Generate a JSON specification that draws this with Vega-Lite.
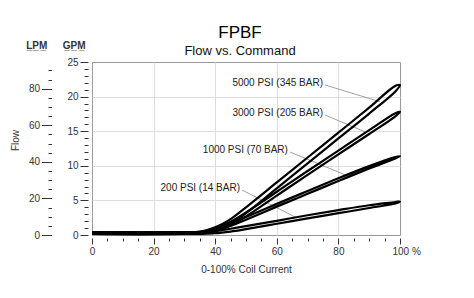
{
  "$schema": "https://vega.github.io/schema/vega-lite/v6.json",
  "width": 308,
  "height": 173,
  "autosize": {"type": "none"},
  "padding": {"left": 92, "top": 62, "right": 74, "bottom": 63},
  "title": {
    "text": "FPBF",
    "subtitle": "Flow vs. Command",
    "font": "Liberation Sans",
    "fontSize": 17,
    "fontWeight": "normal",
    "color": "#000",
    "subtitleFont": "Liberation Sans",
    "subtitleFontSize": 13,
    "subtitleColor": "#111",
    "subtitlePadding": 3,
    "anchor": "middle",
    "frame": "group",
    "dx": -6,
    "offset": -18
  },
  "config": {
    "view": {"stroke": "#999", "strokeWidth": 1},
    "font": "Liberation Sans",
    "axis": {
      "labelFont": "Liberation Sans",
      "titleFont": "Liberation Sans",
      "labelFontSize": 10,
      "titleFontSize": 10,
      "labelColor": "#333",
      "titleColor": "#333",
      "tickColor": "#333",
      "domain": false,
      "gridColor": "#ddd",
      "titleFontWeight": "normal",
      "labelOverlap": false,
      "labelFlush": false
    }
  },
  "datasets": {
    "curves": [
      {"c": "5000", "o": 1, "x": 0, "y": 0.15},
      {"c": "5000", "o": 2, "x": 30, "y": 0.15},
      {"c": "5000", "o": 3, "x": 35, "y": 0.2},
      {"c": "5000", "o": 4, "x": 40, "y": 0.6},
      {"c": "5000", "o": 5, "x": 45, "y": 1.6},
      {"c": "5000", "o": 6, "x": 50, "y": 3.15},
      {"c": "5000", "o": 7, "x": 60, "y": 6.75},
      {"c": "5000", "o": 8, "x": 70, "y": 10.35},
      {"c": "5000", "o": 9, "x": 80, "y": 13.95},
      {"c": "5000", "o": 10, "x": 90, "y": 17.55},
      {"c": "5000", "o": 11, "x": 98.5, "y": 20.75},
      {"c": "5000", "o": 12, "x": 100, "y": 21.65},
      {"c": "5000", "o": 13, "x": 98.5, "y": 21.55},
      {"c": "5000", "o": 14, "x": 90, "y": 18.4},
      {"c": "5000", "o": 15, "x": 80, "y": 14.8},
      {"c": "5000", "o": 16, "x": 70, "y": 11.2},
      {"c": "5000", "o": 17, "x": 60, "y": 7.6},
      {"c": "5000", "o": 18, "x": 50, "y": 4.0},
      {"c": "5000", "o": 19, "x": 45, "y": 2.3},
      {"c": "5000", "o": 20, "x": 40, "y": 1.1},
      {"c": "5000", "o": 21, "x": 35, "y": 0.45},
      {"c": "5000", "o": 22, "x": 30, "y": 0.38},
      {"c": "5000", "o": 23, "x": 0, "y": 0.38},

      {"c": "3000", "o": 1, "x": 0, "y": 0.15},
      {"c": "3000", "o": 2, "x": 30, "y": 0.15},
      {"c": "3000", "o": 3, "x": 35, "y": 0.2},
      {"c": "3000", "o": 4, "x": 40, "y": 0.55},
      {"c": "3000", "o": 5, "x": 45, "y": 1.4},
      {"c": "3000", "o": 6, "x": 50, "y": 2.7},
      {"c": "3000", "o": 7, "x": 60, "y": 5.7},
      {"c": "3000", "o": 8, "x": 70, "y": 8.7},
      {"c": "3000", "o": 9, "x": 80, "y": 11.65},
      {"c": "3000", "o": 10, "x": 90, "y": 14.6},
      {"c": "3000", "o": 11, "x": 98.5, "y": 17.15},
      {"c": "3000", "o": 12, "x": 100, "y": 17.8},
      {"c": "3000", "o": 13, "x": 98.5, "y": 17.6},
      {"c": "3000", "o": 14, "x": 90, "y": 15.15},
      {"c": "3000", "o": 15, "x": 80, "y": 12.2},
      {"c": "3000", "o": 16, "x": 70, "y": 9.25},
      {"c": "3000", "o": 17, "x": 60, "y": 6.25},
      {"c": "3000", "o": 18, "x": 50, "y": 3.25},
      {"c": "3000", "o": 19, "x": 45, "y": 1.9},
      {"c": "3000", "o": 20, "x": 40, "y": 0.95},
      {"c": "3000", "o": 21, "x": 35, "y": 0.45},
      {"c": "3000", "o": 22, "x": 30, "y": 0.38},
      {"c": "3000", "o": 23, "x": 0, "y": 0.38},

      {"c": "1000", "o": 1, "x": 0, "y": 0.15},
      {"c": "1000", "o": 2, "x": 30, "y": 0.15},
      {"c": "1000", "o": 3, "x": 35, "y": 0.2},
      {"c": "1000", "o": 4, "x": 40, "y": 0.55},
      {"c": "1000", "o": 5, "x": 45, "y": 1.3},
      {"c": "1000", "o": 6, "x": 50, "y": 2.2},
      {"c": "1000", "o": 7, "x": 60, "y": 4.1},
      {"c": "1000", "o": 8, "x": 70, "y": 5.95},
      {"c": "1000", "o": 9, "x": 80, "y": 7.8},
      {"c": "1000", "o": 10, "x": 90, "y": 9.6},
      {"c": "1000", "o": 11, "x": 98.5, "y": 11.05},
      {"c": "1000", "o": 12, "x": 100, "y": 11.4},
      {"c": "1000", "o": 13, "x": 98.5, "y": 11.25},
      {"c": "1000", "o": 14, "x": 90, "y": 9.95},
      {"c": "1000", "o": 15, "x": 80, "y": 8.2},
      {"c": "1000", "o": 16, "x": 70, "y": 6.35},
      {"c": "1000", "o": 17, "x": 60, "y": 4.5},
      {"c": "1000", "o": 18, "x": 50, "y": 2.6},
      {"c": "1000", "o": 19, "x": 45, "y": 1.7},
      {"c": "1000", "o": 20, "x": 40, "y": 0.9},
      {"c": "1000", "o": 21, "x": 35, "y": 0.45},
      {"c": "1000", "o": 22, "x": 30, "y": 0.38},
      {"c": "1000", "o": 23, "x": 0, "y": 0.38},

      {"c": "200", "o": 1, "x": 0, "y": 0.15},
      {"c": "200", "o": 2, "x": 30, "y": 0.15},
      {"c": "200", "o": 3, "x": 35, "y": 0.17},
      {"c": "200", "o": 4, "x": 40, "y": 0.25},
      {"c": "200", "o": 5, "x": 45, "y": 0.5},
      {"c": "200", "o": 6, "x": 50, "y": 0.85},
      {"c": "200", "o": 7, "x": 60, "y": 1.62},
      {"c": "200", "o": 8, "x": 70, "y": 2.4},
      {"c": "200", "o": 9, "x": 80, "y": 3.15},
      {"c": "200", "o": 10, "x": 90, "y": 3.9},
      {"c": "200", "o": 11, "x": 98.5, "y": 4.55},
      {"c": "200", "o": 12, "x": 100, "y": 4.85},
      {"c": "200", "o": 13, "x": 98.5, "y": 4.75},
      {"c": "200", "o": 14, "x": 90, "y": 4.3},
      {"c": "200", "o": 15, "x": 80, "y": 3.6},
      {"c": "200", "o": 16, "x": 70, "y": 2.85},
      {"c": "200", "o": 17, "x": 60, "y": 2.05},
      {"c": "200", "o": 18, "x": 50, "y": 1.28},
      {"c": "200", "o": 19, "x": 45, "y": 0.9},
      {"c": "200", "o": 20, "x": 40, "y": 0.55},
      {"c": "200", "o": 21, "x": 35, "y": 0.42},
      {"c": "200", "o": 22, "x": 30, "y": 0.38},
      {"c": "200", "o": 23, "x": 0, "y": 0.38}
    ],
    "labels": [
      {"t": "5000 PSI (345 BAR)", "x": 75.0, "y": 21.92, "x1": 75.65, "y1": 21.68, "x2": 93.5, "y2": 19.26},
      {"t": "3000 PSI (205 BAR)", "x": 75.0, "y": 17.59, "x1": 75.65, "y1": 17.34, "x2": 89.0, "y2": 14.85},
      {"t": "1000 PSI (70 BAR)", "x": 63.6, "y": 12.28, "x1": 64.3, "y1": 11.99, "x2": 82.7, "y2": 8.6},
      {"t": "200 PSI (14 BAR)", "x": 48.05, "y": 6.75, "x1": 48.7, "y1": 6.5, "x2": 66.4, "y2": 2.5}
    ]
  },
  "layer": [
    {
      "data": {"name": "labels"},
      "mark": {"type": "rule", "color": "#888", "strokeWidth": 0.8},
      "encoding": {
        "x": {"field": "x1", "type": "quantitative", "scale": {"domain": [0, 100], "nice": false}, "axis": null},
        "y": {
          "field": "y1", "type": "quantitative", "scale": {"domain": [0, 25], "nice": false},
          "axis": {
            "orient": "left", "offset": 40.5, "ticks": false, "labels": false, "grid": false,
            "title": "Flow", "titleX": -36.5, "titleY": 78, "titleAngle": -90,
            "titleAlign": "center", "titleBaseline": "middle", "titleFontSize": 10, "titleColor": "#333"
          }
        },
        "x2": {"field": "x2"},
        "y2": {"field": "y2"}
      }
    },
    {
      "data": {"name": "labels"},
      "mark": {"type": "text", "align": "right", "baseline": "middle", "fontSize": 10, "font": "Liberation Sans", "color": "#222"},
      "encoding": {
        "x": {"field": "x", "type": "quantitative", "scale": {"domain": [0, 100], "nice": false}, "axis": null},
        "y": {
          "field": "y", "type": "quantitative", "scale": {"domain": [0, 25], "nice": false},
          "axis": {
            "orient": "left", "offset": 40.5, "grid": false,
            "values": [0, 1.3209, 2.6417, 3.9626, 5.2834, 6.6043, 7.9252, 9.2460, 10.5669, 11.8877, 13.2086, 14.5295, 15.8503, 17.1712, 18.4920, 19.8129, 21.1338, 22.4546, 23.7755, 25.0964],
            "tickSize": {"condition": {"test": "round(datum.value*3.78541) % 20 === 0", "value": 10}, "value": 3.5},
            "labelExpr": "round(datum.value*3.78541) % 20 === 0 ? format(round(datum.value*3.78541), 'd') : ''",
            "labelPadding": 2,
            "title": "L̲P̲M̲", "titleAngle": 0, "titleX": -15.2, "titleY": -16.3,
            "titleAlign": "center", "titleBaseline": "middle", "titleFontWeight": "bold", "titleFontSize": 10, "titleColor": "#333"
          }
        },
        "text": {"field": "t"}
      }
    },
    {
      "data": {"name": "curves"},
      "mark": {"type": "line", "color": "#000", "strokeWidth": 2.2, "interpolate": "catmull-rom"},
      "encoding": {
        "x": {
          "field": "x", "type": "quantitative", "scale": {"domain": [0, 100], "nice": false},
          "axis": {
            "values": [0, 5, 10, 15, 20, 25, 30, 35, 40, 45, 50, 55, 60, 65, 70, 75, 80, 85, 90, 95, 100],
            "offset": 3,
            "tickSize": {"condition": {"test": "datum.value % 20 === 0", "value": 6}, "value": 3},
            "labelExpr": "datum.value % 20 === 0 ? (datum.value === 100 ? '100 %' : datum.label) : ''",
            "labelAlign": {"condition": {"test": "datum.value === 100", "value": "left"}, "value": "center"},
            "labelOffset": {"condition": {"test": "datum.value === 100", "value": -8}, "value": 0},
            "labelPadding": 2,
            "grid": true,
            "gridOpacity": {"condition": {"test": "datum.value % 20 === 0 && datum.value > 0 && datum.value < 100", "value": 1}, "value": 0},
            "title": "0-100% Coil Current", "titlePadding": 8
          }
        },
        "y": {
          "field": "y", "type": "quantitative", "scale": {"domain": [0, 25], "nice": false},
          "axis": {
            "orient": "left", "offset": 4,
            "values": [0, 1, 2, 3, 4, 5, 6, 7, 8, 9, 10, 11, 12, 13, 14, 15, 16, 17, 18, 19, 20, 21, 22, 23, 24, 25],
            "tickSize": {"condition": {"test": "datum.value % 5 === 0", "value": 8}, "value": 4},
            "labelExpr": "datum.value % 5 === 0 ? datum.label : ''",
            "labelPadding": 2,
            "grid": true,
            "gridOpacity": {"condition": {"test": "datum.value % 5 === 0 && datum.value > 0 && datum.value < 25", "value": 1}, "value": 0},
            "title": "G̲P̲M̲", "titleAngle": 0, "titleX": -14.3, "titleY": -16.3,
            "titleAlign": "center", "titleBaseline": "middle", "titleFontWeight": "bold", "titleFontSize": 10, "titleColor": "#333"
          }
        },
        "detail": {"field": "c"},
        "order": {"field": "o", "type": "quantitative"}
      }
    }
  ],
  "resolve": {"axis": {"x": "independent", "y": "independent"}}
}
